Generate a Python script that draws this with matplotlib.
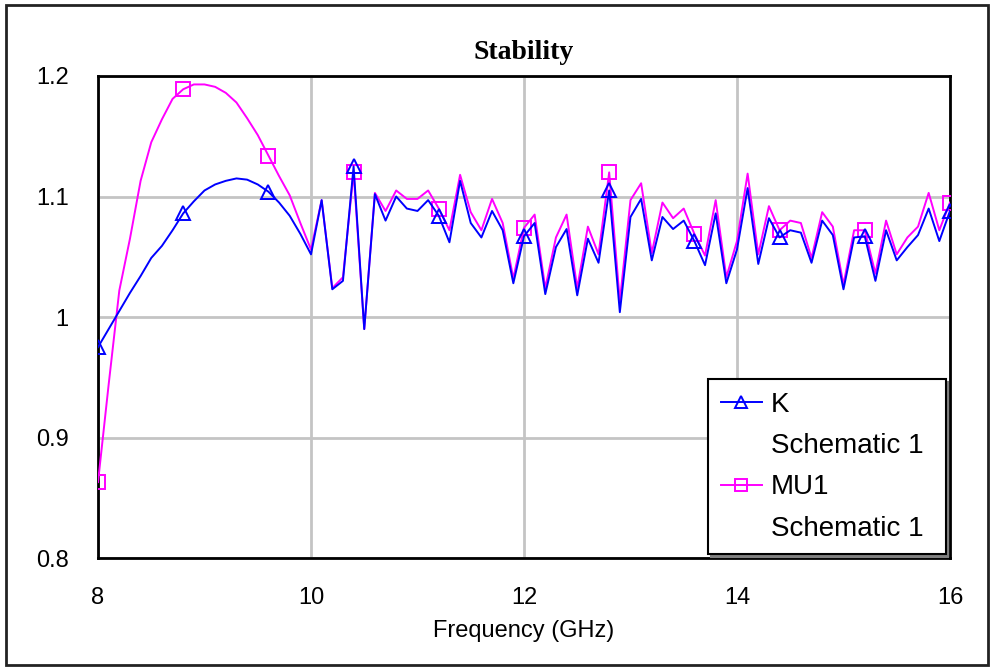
import numpy as np
import matplotlib
matplotlib.use('Agg')
import matplotlib.pyplot as plt
from matplotlib.lines import Line2D
from matplotlib.patches import Rectangle

#############################################################################################
# Data (sweep of 8-16 GHz in 0.1 GHz steps)
freq = np.linspace(8.0, 16.0, 81)

K_values = [0.975, 0.990, 1.005, 1.020, 1.034, 1.049, 1.059, 1.072, 1.086, 1.096,
            1.105, 1.110, 1.113, 1.115, 1.114, 1.110, 1.104, 1.095, 1.084, 1.069,
            1.052, 1.097, 1.023, 1.030, 1.125, 0.990, 1.102, 1.080, 1.100, 1.090,
            1.088, 1.097, 1.084, 1.062, 1.113, 1.078, 1.066, 1.088, 1.072, 1.028,
            1.067, 1.078, 1.019, 1.058, 1.073, 1.018, 1.065, 1.045, 1.105, 1.004,
            1.083, 1.098, 1.047, 1.083, 1.073, 1.080, 1.063, 1.043, 1.086, 1.028,
            1.056, 1.107, 1.044, 1.082, 1.066, 1.072, 1.070, 1.045, 1.080, 1.068,
            1.023, 1.066, 1.067, 1.030, 1.072, 1.047, 1.058, 1.068, 1.090, 1.063,
            1.088]

MU1_values = [0.863, 0.944, 1.022, 1.065, 1.113, 1.145, 1.164, 1.181, 1.189, 1.193,
              1.193, 1.191, 1.186, 1.178, 1.165, 1.151, 1.134, 1.117, 1.101, 1.078,
              1.056, 1.097, 1.024, 1.033, 1.120, 0.990, 1.103, 1.088, 1.105, 1.098,
              1.098, 1.105, 1.090, 1.072, 1.118, 1.087, 1.072, 1.098, 1.078, 1.032,
              1.074, 1.085, 1.024, 1.066, 1.085, 1.024, 1.075, 1.052, 1.120, 1.013,
              1.097, 1.111, 1.053, 1.095, 1.082, 1.090, 1.069, 1.051, 1.097, 1.033,
              1.063, 1.119, 1.052, 1.092, 1.072, 1.080, 1.078, 1.049, 1.087, 1.075,
              1.027, 1.072, 1.072, 1.036, 1.080, 1.052, 1.066, 1.075, 1.103, 1.072,
              1.095]

x_ticks = [8, 10, 12, 14, 16]
y_ticks = [0.8, 0.9, 1.0, 1.1, 1.2]
y_labels = ['0.8', '0.9', '1', '1.1', '1.2']

#############################################################################################
plt.rcParams['font.family'] = ['Liberation Sans', 'DejaVu Sans']

fig = plt.figure(figsize=(9.94, 6.69), dpi=100)
ax = fig.add_axes([0.0986, 0.1659, 0.8571, 0.7205])

fig.add_artist(Rectangle((0.006, 0.006), 0.988, 0.986, transform=fig.transFigure,
                         fill=False, edgecolor='#222222', linewidth=2))

blue = '#0000ff'
magenta = '#ff00ff'

ax.plot(freq, MU1_values, color=magenta, lw=1.4, marker='s', ms=10.5,
        markevery=8, mfc='none', mec=magenta, mew=1.4, zorder=3)
ax.plot(freq, K_values, color=blue, lw=1.4, marker='^', ms=10.5,
        markevery=8, mfc='none', mec=blue, mew=1.4, zorder=4)

ax.set_xlim(8, 16)
ax.set_ylim(0.8, 1.2)
ax.set_xticks(x_ticks)
ax.set_xticklabels([str(t) for t in x_ticks])
ax.set_yticks(y_ticks)
ax.set_yticklabels(y_labels)
ax.tick_params(length=0, pad=21, labelsize=17)
ax.grid(True, color='#c4c4c4', lw=2)
ax.set_axisbelow(True)
for sp in ax.spines.values():
    sp.set_linewidth(2)
    sp.set_color('black')

ax.set_xlabel('Frequency (GHz)', fontsize=17, labelpad=8)
ax.set_title('Stability', fontsize=20, fontweight='bold',
             family=['Liberation Serif', 'DejaVu Serif'], pad=12)

# legend: handle sits next to the first label line
handles = [Line2D([], [], color=blue, lw=1.4, marker='^', ms=9, mfc='none', mew=1.4),
           Line2D([], [], linestyle='none'),
           Line2D([], [], color=magenta, lw=1.4, marker='s', ms=9, mfc='none', mew=1.4),
           Line2D([], [], linestyle='none')]
labels = ['K', 'Schematic 1', 'MU1', 'Schematic 1']
leg = ax.legend(handles, labels, loc='lower left',
                bbox_to_anchor=(0.716, 0.008, 0.279, 0.365), mode='expand',
                borderaxespad=0, fontsize=20, handlelength=1.5, handletextpad=0.3,
                labelspacing=0.55, borderpad=0.45, fancybox=False,
                shadow={'color': '#808080', 'alpha': 1.0}, framealpha=1)
leg.get_frame().set_edgecolor('black')
leg.get_frame().set_linewidth(1.5)

fig.savefig('out.png', dpi=100)
